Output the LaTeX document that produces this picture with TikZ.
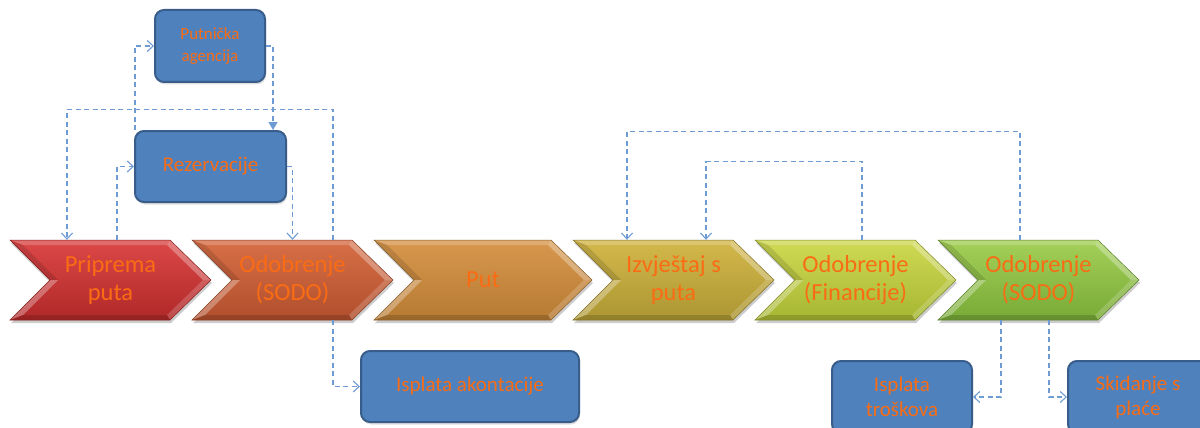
\documentclass[tikz,border=0pt]{standalone}
\usepackage{fontspec}
\setmainfont{Carlito}
\usetikzlibrary{arrows.meta,shadows}
\definecolor{txtor}{RGB}{250,108,20}
\definecolor{boxblue}{RGB}{79,129,189}
\definecolor{boxbord}{RGB}{56,93,138}
\definecolor{dashc}{RGB}{110,155,212}
\definecolor{ca}{RGB}{220,72,72}\definecolor{cab}{RGB}{176,40,40}
\definecolor{cb}{RGB}{216,112,72}\definecolor{cbb}{RGB}{176,78,44}
\definecolor{cc}{RGB}{216,152,78}\definecolor{ccb}{RGB}{182,122,50}
\definecolor{cd}{RGB}{212,184,76}\definecolor{cdb}{RGB}{172,150,50}
\definecolor{ce}{RGB}{208,218,84}\definecolor{ceb}{RGB}{166,182,50}
\definecolor{cf}{RGB}{164,208,88}\definecolor{cfb}{RGB}{120,170,55}
\tikzset{
  chevtext/.style={inner sep=0pt,minimum height=80pt,align=center,text=txtor,
    font=\fontsize{24.5}{28}\selectfont},
  bluebox/.style={rounded corners=9pt,fill=boxblue,draw=boxbord,line width=2pt,
    inner sep=0pt,align=center,text=txtor,font=\fontsize{21}{25}\selectfont,
    drop shadow={opacity=0.25,shadow xshift=1pt,shadow yshift=-2.5pt}},
  conn/.style={draw=dashc,line width=1.3pt,dash pattern=on 5pt off 3.5pt},
  openhead/.style={-{Straight Barb[length=6pt,width=11pt,line width=1.1pt]}},
  fullhead/.style={-{Triangle[length=8pt,width=9pt]}}
}
\newcommand\mychev[6]{%
  \pgfmathsetmacro\xa{#2}%
  \pgfmathsetmacro\xn{#2+40}%
  \pgfmathsetmacro\xb{#2+#3-41}%
  \pgfmathsetmacro\xc{#2+#3}%
  \fill[black,opacity=0.2,xshift=1pt,yshift=-3pt] (\xa,240) -- (\xb,240) -- (\xc,280) -- (\xb,320) -- (\xa,320) -- (\xn,280) -- cycle;
  \shade[top color=#4,bottom color=#5] (\xa,240) -- (\xb,240) -- (\xc,280) -- (\xb,320) -- (\xa,320) -- (\xn,280) -- cycle;
  \fill[white,opacity=0.2] (\xa,240) -- (\xb,240) -- ({\xb-3},245) -- ({\xa+13},245) -- cycle;
  \fill[black,opacity=0.12] (\xa,240) -- ({\xa+13},245) -- ({\xn+8},280) -- (\xn,280) -- cycle;
  \fill[white,opacity=0.3] (\xn,280) -- ({\xn+8},280) -- ({\xa+13},315) -- (\xa,320) -- cycle;
  \fill[white,opacity=0.3] (\xb,240) -- (\xc,280) -- ({\xc-8},280) -- ({\xb-3},245) -- cycle;
  \fill[white,opacity=0.18] (\xc,280) -- (\xb,320) -- ({\xb-3},315) -- ({\xc-8},280) -- cycle;
  \fill[black,opacity=0.15] (\xa,320) -- ({\xa+13},315) -- ({\xb-3},315) -- (\xb,320) -- cycle;
  \draw[#5!75!black,line width=0.5pt] (\xa,240) -- (\xb,240) -- (\xc,280) -- (\xb,320) -- (\xa,320) -- (\xn,280) -- cycle;
  \node[chevtext,minimum width=#3pt] (#1) at ({#2+#3/2},280) {#6};
}
\begin{document}
\begin{tikzpicture}[x=1pt,y=-1pt]
\useasboundingbox (0,0) rectangle (1200,428);
% chevrons
\mychev{c1}{10}{201}{ca}{cab}{Priprema\\puta}
\mychev{c2}{192}{201}{cb}{cbb}{Odobrenje\\(SODO)}
\mychev{c3}{374}{218}{cc}{ccb}{Put}
\mychev{c4}{573}{201}{cd}{cdb}{Izvještaj s\\puta}
\mychev{c5}{755}{201}{ce}{ceb}{Odobrenje\\(Financije)}
\mychev{c6}{938}{201}{cf}{cfb}{Odobrenje\\(SODO)}
% boxes
\node[bluebox,minimum width=110pt,minimum height=72pt,font=\fontsize{17}{22}\selectfont] (put) at (210,46) {Putnička\\agencija};
\node[bluebox,minimum width=151pt,minimum height=71pt] (rez) at (210.5,166.5) {Rezervacije};
\node[bluebox,minimum width=218pt,minimum height=71pt] (isa) at (470,386.5) {Isplata akontacije};
\node[bluebox,minimum width=140pt,minimum height=72pt] (tro) at (902,397) {Isplata\\troškova};
\node[bluebox,minimum width=140pt,minimum height=72pt] (ski) at (1138,397) {Skidanje s\\plaće};
% connectors
\draw[conn,openhead] ([xshift=6.5pt]c1.north) |- (rez.west);
\draw[conn,openhead] ([xshift=1pt]rez.north west) |- (put.west);
\draw[conn,fullhead] (put.east) -| ([xshift=62.5pt]rez.north);
\draw[conn,openhead] (rez.east) -| (c2.north);
\draw[conn,openhead] ([xshift=40.5pt]c2.north) -- ++(0,-130) -| ([xshift=-43.5pt]c1.north);
\draw[conn,openhead] ([xshift=40.5pt]c2.south) |- (isa.west);
\draw[conn,openhead] ([xshift=6.5pt]c5.north) -- ++(0,-78) -| ([xshift=32.5pt]c4.north);
\draw[conn,openhead] ([xshift=-18.5pt]c6.north) -- ++(0,-108) -| ([xshift=-46.5pt]c4.north);
\draw[conn,openhead] ([xshift=-37.5pt]c6.south) |- (tro.east);
\draw[conn,openhead] ([xshift=10.5pt]c6.south) |- (ski.west);
\end{tikzpicture}
\end{document}
